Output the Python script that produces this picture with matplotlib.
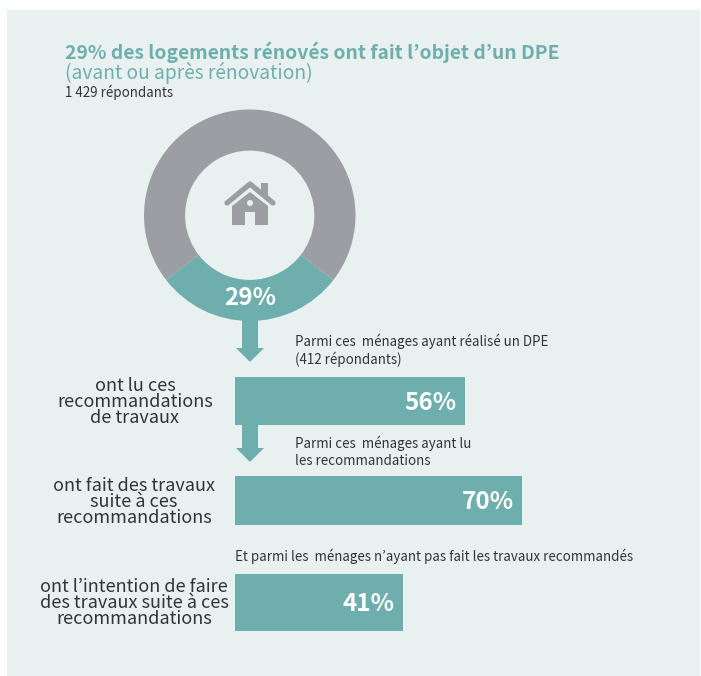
import matplotlib
matplotlib.use('Agg')
import matplotlib.pyplot as plt
from matplotlib.patches import Polygon, Rectangle, Circle

plt.rcParams['font.family'] = ['Noto Sans CJK JP', 'DejaVu Sans']

W, H = 701, 676
BG = '#E9F1F0'
TEAL = '#6EAFAD'
GRAY = '#9B9EA3'
DARK = '#333436'

donut_values = [29, 71]
bar_values = [56, 70, 41]
bar_labels = ['56%', '70%', '41%']
bar_tops = [377, 476, 574]
bar_bottoms = [425, 525, 631]
row_labels = ['ont lu ces\nrecommandations\nde travaux',
              'ont fait des travaux\nsuite à ces\nrecommandations',
              'ont l’intention de faire\ndes travaux suite à ces\nrecommandations']
row_label_x = [135, 134, 134]
row_label_y = [402, 502, 603]
notes = [(295, 341, 'Parmi ces  ménages ayant réalisé un DPE'),
         (295, 359, '(412 répondants)'),
         (295, 443, 'Parmi ces  ménages ayant lu'),
         (295, 461, 'les recommandations'),
         (235, 556, 'Et parmi les  ménages n’ayant pas fait les travaux recommandés')]


def px_axes(fig, left, top, right, bottom):
    return fig.add_axes([left / W, 1 - bottom / H, (right - left) / W, (bottom - top) / H])


def arrow(ax, top, neck, tip):
    ax.add_patch(Polygon([(242, top), (258, top), (258, neck), (264, neck), (250, tip),
                          (236, neck), (242, neck)], closed=True, fc=TEAL, ec='none'))


def house(ax, cx, cy):
    # roof, chimney, walls, door and window, in pixels around the centre
    ax.add_patch(Rectangle((cx + 11, cy - 31), 7, 14, fc=GRAY, ec='none'))
    ax.plot([cx - 23, cx, cx + 23], [cy - 11, cy - 30, cy - 11], color=GRAY, lw=3.8,
            solid_capstyle='round', solid_joinstyle='round')
    ax.add_patch(Polygon([(cx, cy - 22), (cx + 18, cy - 8), (cx + 18, cy + 11), (cx - 18, cy + 11),
                          (cx - 18, cy - 8)], closed=True, fc=GRAY, ec='none'))
    ax.add_patch(Rectangle((cx - 5, cy - 2), 10, 13, fc=BG, ec='none'))
    ax.add_patch(Circle((cx, cy - 11), 3, fc=BG, ec='none'))


fig = plt.figure(figsize=(W / 100, H / 100), dpi=100, facecolor='white')

# page layer in pixel coordinates
bg = fig.add_axes([0, 0, 1, 1])
bg.set_xlim(0, W)
bg.set_ylim(H, 0)
bg.axis('off')
bg.add_patch(Rectangle((7, 10), 693, 666, fc=BG, ec='none'))

bg.text(65, 52, '29% des logements rénovés ont fait l’objet d’un DPE', fontsize=13.9,
        fontweight='bold', color=TEAL, ha='left', va='center')
bg.text(65, 73, '(avant ou après rénovation)', fontsize=13.8, color=TEAL, ha='left', va='center')
bg.text(65, 92, '1 429 répondants', fontsize=9.6, color=DARK, ha='left', va='center')

arrow(bg, 318, 348, 362)
arrow(bg, 425, 448, 462)
house(bg, 250, 214)

for x, y, s in notes:
    bg.text(x, y, s, fontsize=9.6, color=DARK, ha='left', va='center')
for x, y, s in zip(row_label_x, row_label_y, row_labels):
    bg.text(x, y, s, fontsize=13, color=DARK, ha='center', va='center', linespacing=0.88)

# donut
ax_d = px_axes(fig, 144, 109.5, 355.5, 321)
ax_d.pie(donut_values, colors=[TEAL, GRAY], startangle=270 - 52.2, radius=1,
         wedgeprops={'width': 41 / 105.5, 'linewidth': 0})
ax_d.set_xlim(-1, 1)
ax_d.set_ylim(-1, 1)
ax_d.patch.set_alpha(0)
ax_d.text(0, -0.78, '29%', fontsize=17.5, fontweight='bold', color='white', ha='center', va='center')

# bars: 100 % spans 410 px
ax_b = px_axes(fig, 235, 0, 645, H)
ax_b.set_xlim(0, 100)
ax_b.set_ylim(H, 0)
ax_b.axis('off')
ax_b.patch.set_alpha(0)
for val, lab, top, bot in zip(bar_values, bar_labels, bar_tops, bar_bottoms):
    ax_b.barh((top + bot) / 2, val, height=bot - top, color=TEAL, linewidth=0)
    ax_b.text(val - 2, (top + bot) / 2 + 1.5, lab, fontsize=17.5, fontweight='bold', color='white',
              ha='right', va='center')

fig.savefig('out.png', dpi=100, facecolor='white')
